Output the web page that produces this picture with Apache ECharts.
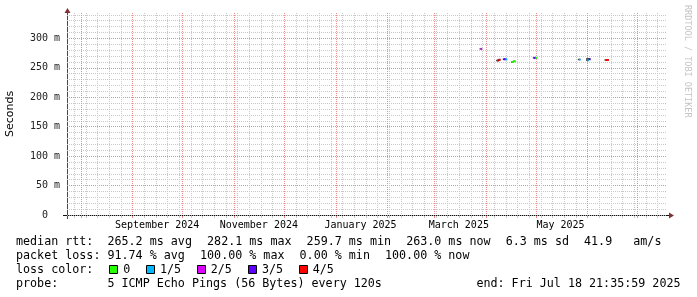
<!DOCTYPE html>
<html><head><meta charset="utf-8">
<script src="https://cdn.jsdelivr.net/npm/echarts@6/dist/echarts.min.js"></script>
<style>html,body{margin:0;padding:0;background:#fff}#c{width:697px;height:297px}</style>
</head><body><div id="c"></div>
<script>
// ---------------- data ----------------
const endLabel = 'Fri Jul 18 21:35:59 2025';
const endIso = '2025-07-18T21:35:59Z';
const rangeDays = 360;

const yTickValues = [0, 50, 100, 150, 200, 250, 300];      // ms
const yMaxMs = 343;

const monthLines = ['2024-08-01','2024-09-01','2024-10-01','2024-11-01','2024-12-01','2025-01-01',
                    '2025-02-01','2025-03-01','2025-04-01','2025-05-01','2025-06-01','2025-07-01'];
const monthLabelStarts = ['2024-09-01','2024-11-01','2025-01-01','2025-03-01','2025-05-01'];
const monthLabels = ['September 2024','November 2024','January 2025','March 2025','May 2025'];
const firstWeekLine = '2024-07-28';   // Sundays

// smoke-ping samples (daily), median rtt in ms, loss = pings lost of 5
const sampleDays = ['2025-03-29','2025-04-08','2025-04-09','2025-04-12','2025-04-13','2025-04-17','2025-04-18',
                    '2025-04-30','2025-05-01','2025-05-27','2025-06-01','2025-06-02','2025-06-12','2025-06-13'];
const medianMs   = [282.1, 262.4, 263.6, 264.6, 264.2, 259.7, 261.0,
                    266.8, 267.0, 264.0, 262.6, 264.6, 263.2, 263.0];
const lossCount  = [2, 4, 4, 3, 1, 0, 0,
                    3, 0, 1, 1, 3, 4, 4];
const smokeLowMs = [281.0, 261.0, 262.0, 263.0, 263.0, 258.6, 259.8,
                    265.6, 265.8, 262.8, 261.4, 263.0, 262.0, 261.8];
const smokeHighMs= [283.2, 263.6, 265.0, 266.0, 265.4, 260.8, 262.2,
                    268.0, 268.2, 265.2, 266.4, 266.0, 264.4, 264.2];

const lossLabels = ['0', '1/5', '2/5', '3/5', '4/5'];
const lossColors = ['#26ff00', '#00b8ff', '#dd00ff', '#5e00ff', '#ff0000'];

const rttStats  = [265.2, 282.1, 259.7, 263.0, 6.3];   // avg max min now sd
const amPerSec  = 41.9;
const lossStats = [91.74, 100.00, 0.00, 100.00];       // avg max min now
const probeText = '5 ICMP Echo Pings (56 Bytes) every 120s';

// ---------------- layout ----------------
const DAY = 86400000;
const L = 67, R = 667, T = 13, B = 215, W = 697, H = 297;
const endTime = Date.parse(endIso);
const startTime = endTime - rangeDays * DAY;
const ts = s => Date.parse(s + 'T00:00:00Z');

const weekLines = [];
for (let t = ts(firstWeekLine); t < endTime; t += 7 * DAY) weekLines.push(t);

const gridData = weekLines.map(t => [t, 0]).concat(monthLines.map(s => [ts(s), 1]));
const labelData = monthLabelStarts.map((s, i) => [ts(s) + 15 * DAY, 0, i]);
const smokeData = sampleDays.map((s, i) => [ts(s), smokeLowMs[i], smokeHighMs[i]]);
const medianData = sampleDays.map((s, i) => [ts(s), medianMs[i], lossCount[i]]);

const MONO = '"DejaVu Sans Mono", monospace';
const MINOR = '#c9c9c9';
const MAJOR = '#ec8c8c';
const ARROW = '#803131';

function renderGrid(params, api) {
  const v = api.value(0), kind = api.value(1);
  const x = Math.round(api.coord([v, 0])[0]) + 0.5;
  const yTop = api.coord([v, yMaxMs])[1], yBot = api.coord([v, 0])[1];
  const color = kind ? MAJOR : MINOR;
  return {type: 'group', children: [
    {type: 'line', shape: {x1: x, y1: yTop, x2: x, y2: yBot}, style: {stroke: color, lineWidth: 1, lineDash: [1, 1]}},
    {type: 'line', shape: {x1: x, y1: yBot + 1, x2: x, y2: yBot + 3}, style: {stroke: color, lineWidth: 1}}
  ]};
}
function renderLabel(params, api) {
  const p = api.coord([api.value(0), 0]);
  return {type: 'text', x: p[0], y: p[1] + 10,
    style: {text: monthLabels[api.value(2)], fill: '#000', fontFamily: MONO, fontSize: 10, align: 'center', verticalAlign: 'middle'}};
}
function renderSmoke(params, api) {
  const t = api.value(0);
  const p0 = api.coord([t - 0.6 * DAY, api.value(2)]);
  const p1 = api.coord([t + DAY, api.value(1)]);
  return {type: 'rect', shape: {x: p0[0], y: p0[1], width: p1[0] - p0[0], height: p1[1] - p0[1]}, style: {fill: '#3a3a3a'}};
}
function renderMedian(params, api) {
  const t = api.value(0);
  const p0 = api.coord([t, api.value(1)]);
  const p1 = api.coord([t + DAY, api.value(1)]);
  return {type: 'rect', shape: {x: p0[0], y: p0[1] - 1, width: p1[0] - p0[0], height: 2}, style: {fill: lossColors[api.value(2)]}};
}

// ---------------- legend graphics ----------------
const FS = 11.7, CW = FS * 0.602, GAP = 15, LX = 16;
const txt = (x, y, s, align) => ({type: 'text', x: x, y: y, silent: true,
  style: {text: s, fill: '#000', fontFamily: MONO, fontSize: FS, align: align || 'left', verticalAlign: 'middle'}});
const f1 = v => v.toFixed(1), f2 = v => v.toFixed(2);
const ly = [241.5, 255.5, 269.5, 283.5];
const line1 = ['median rtt:  ' + f1(rttStats[0]) + ' ms avg', f1(rttStats[1]) + ' ms max',
               f1(rttStats[2]) + ' ms min', f1(rttStats[3]) + ' ms now', f1(rttStats[4]) + ' ms sd',
               f1(amPerSec) + '   am/s'];
const line2 = ['packet loss: ' + f2(lossStats[0]) + ' % avg', f2(lossStats[1]) + ' % max',
               f2(lossStats[2]) + ' % min', f2(lossStats[3]) + ' % now'];
const graphics = [];
[line1, line2].forEach((items, li) => {
  let x = LX;
  items.forEach(s => { graphics.push(txt(x, ly[li], s)); x += s.length * CW + GAP; });
});
graphics.push(txt(LX, ly[2], 'loss color:'));
graphics.push(txt(LX, ly[3], 'probe:       ' + probeText));
graphics.push(txt(680.5, ly[3], 'end: ' + endLabel, 'right'));
graphics.push(
  // axis lines and arrows
  {type: 'line', shape: {x1: L + 0.5, y1: B + 4, x2: L + 0.5, y2: T - 2}, style: {stroke: '#4a4a4a', lineWidth: 1}},
  {type: 'line', shape: {x1: L - 4, y1: B + 0.5, x2: R + 3, y2: B + 0.5}, style: {stroke: '#111', lineWidth: 1}},
  {type: 'polygon', shape: {points: [[L + 0.5, T - 5], [L - 2.5, T], [L + 3.5, T]]}, style: {fill: ARROW}},
  {type: 'polygon', shape: {points: [[R + 7, B + 0.5], [R + 2, B - 2.5], [R + 2, B + 3.5]]}, style: {fill: ARROW}},
  // y axis title
  {type: 'text', x: 10.5, y: (T + B) / 2, rotation: Math.PI / 2,
   style: {text: 'Seconds', fill: '#000', fontFamily: '"DejaVu Sans", sans-serif', fontSize: 11, align: 'center', verticalAlign: 'middle'}},
  // watermark
  {type: 'text', x: 687.5, y: 5, rotation: -Math.PI / 2,
   style: {text: 'RRDTOOL / TOBI OETIKER', fill: '#c4c4c4', fontFamily: MONO, fontSize: 8.5, align: 'left', verticalAlign: 'middle'}}
);
const boxX = [108.5, 146, 196.5, 247.5, 298.5];
const boxLabelX = [123.3, 160, 210.7, 262, 312.7];
lossLabels.forEach((lab, i) => {
  graphics.push({type: 'rect', shape: {x: Math.round(boxX[i]) + 0.5, y: ly[2] - 4, width: 8, height: 8},
    style: {fill: lossColors[i], stroke: '#000', lineWidth: 1}});
  graphics.push(txt(boxLabelX[i], ly[2], lab));
});

// ---------------- chart ----------------
const chart = echarts.init(document.getElementById('c'));
chart.setOption({
  animation: false,
  backgroundColor: '#fff',
  grid: {left: L, right: W - R, top: T, bottom: H - B, containLabel: false},
  xAxis: {type: 'value', min: startTime, max: endTime, show: true,
    axisLine: {show: false}, axisTick: {show: false}, axisLabel: {show: false}, splitLine: {show: false}},
  yAxis: {type: 'value', min: 0, max: yMaxMs, interval: 10,
    axisLine: {show: false},
    axisTick: {show: false},
    axisLabel: {margin: 7, fontFamily: MONO, fontSize: 10, color: '#222',
      formatter: v => yTickValues.indexOf(v) < 0 ? '' : (v === 0 ? '0  ' : v + ' m')},
    splitLine: {show: true, showMaxLine: false,
      lineStyle: {color: [MAJOR, MINOR, MINOR, MINOR, MINOR], width: 1, type: [1, 1]}}},
  graphic: graphics,
  series: [
    {type: 'custom', name: 'grid', renderItem: renderGrid, data: gridData, silent: true, z: 1},
    {type: 'custom', name: 'labels', renderItem: renderLabel, data: labelData, silent: true, z: 1},
    {type: 'custom', name: 'smoke', renderItem: renderSmoke, data: smokeData, z: 3},
    {type: 'custom', name: 'median', renderItem: renderMedian, data: medianData, z: 4}
  ]
});
</script></body></html>
